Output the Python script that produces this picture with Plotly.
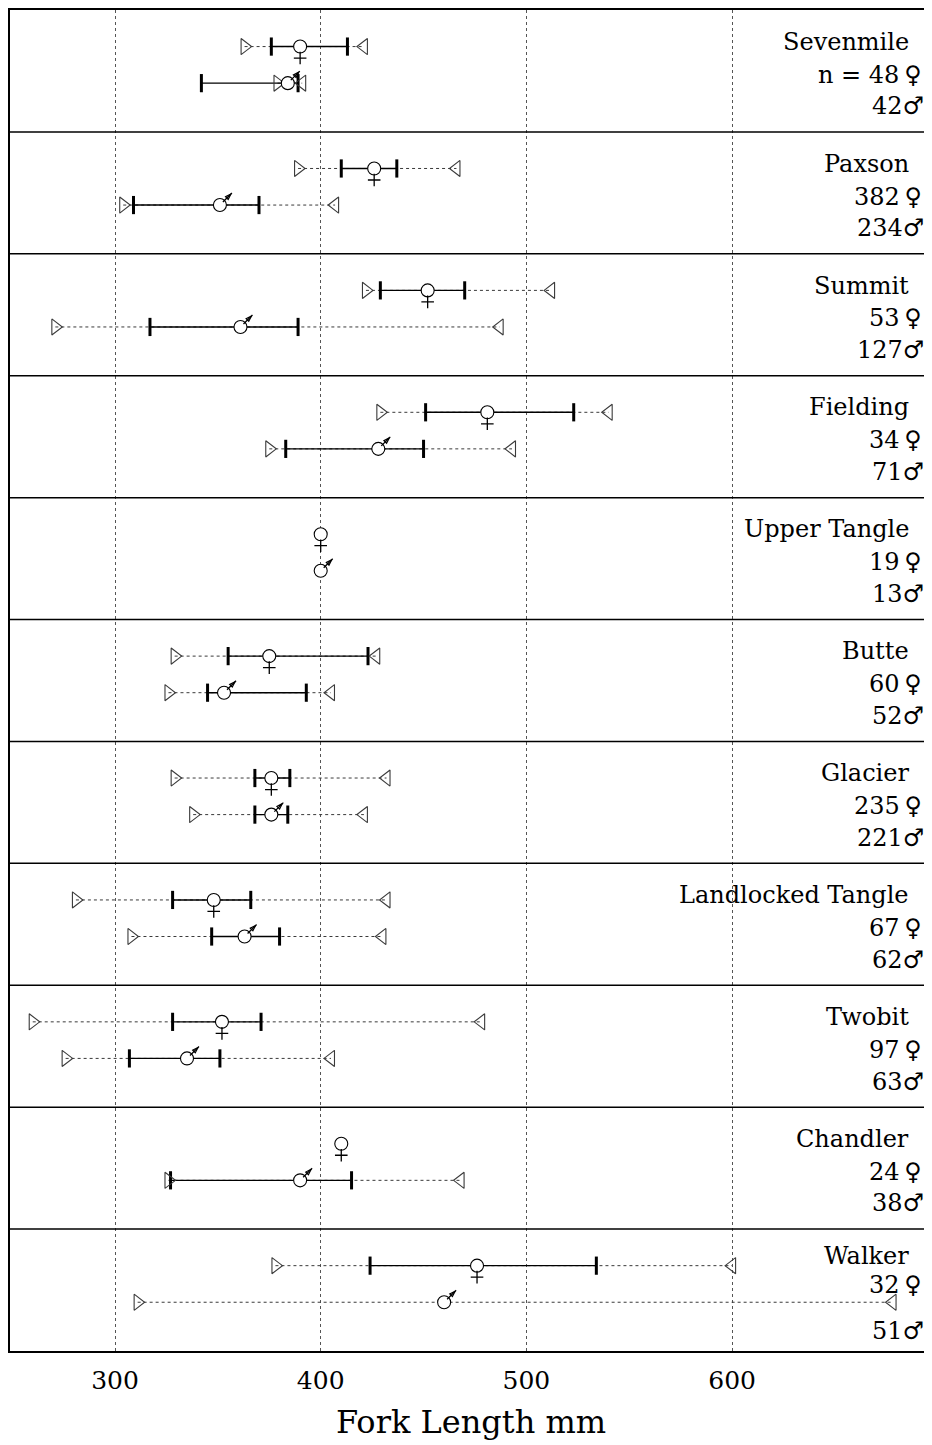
import plotly.graph_objects as go

# ---------------- data ----------------
sites = ["Sevenmile", "Paxson", "Summit", "Fielding", "Upper Tangle", "Butte",
         "Glacier", "Landlocked Tangle", "Twobit", "Chandler", "Walker"]
n_female = [48, 382, 53, 34, 19, 60, 235, 67, 97, 24, 32]
n_male = [42, 234, 127, 71, 13, 52, 221, 62, 63, 38, 51]

f_min  = [363, 389, 422, 429, None, 329, 329, 281, 260, None, 378]
f_lo   = [376, 410, 429, 451, None, 355, 368, 328, 328, None, 424]
f_mean = [390, 426, 452, 481, 400, 375, 376, 348, 352, 410, 476]
f_hi   = [413, 437, 470, 523, None, 423, 385, 366, 371, None, 534]
f_max  = [421, 466, 512, 540, None, 427, 432, 432, 478, None, 600]

m_min  = [379, 304, 271, 375, None, 326, 338, 308, 276, 326, 311]
m_lo   = [342, 309, 317, 383, None, 345, 368, 347, 307, 327, None]
m_mean = [384, 351, 361, 428, 400, 353, 376, 363, 335, 390, 460]
m_hi   = [389, 370, 389, 450, None, 393, 384, 380, 351, 415, None]
m_max  = [391, 407, 487, 493, None, 405, 421, 430, 405, 468, 678]

x_ticks = [300, 400, 500, 600]
x_title = "Fork Length mm"

# ---------------- layout constants ----------------
PAGE_OFF = 8                 # default body margin of the html page
W, H = 932 - PAGE_OFF, 1445 - PAGE_OFF
ML, MR, MT = 2, 0, 2
PLOT_BOTTOM_PAGE = 1351
MB = H - (PLOT_BOTTOM_PAGE - PAGE_OFF)
NP = len(sites)
plot_w = W - ML - MR
plot_h = H - MT - MB
LEFT_PAGE = PAGE_OFF + ML
XR = [300 + (LEFT_PAGE - 115) / 2.057, 300 + (932 - 115) / 2.057]
MM_PER_PX = (XR[1] - XR[0]) / plot_w
Y_PER_PX = NP / plot_h


def paper_x(page_x):
    return (page_x - LEFT_PAGE) / plot_w


F_OFF, M_OFF = 0.30, 0.60
# label positions within a panel (name, female count, male count)
LBL_POS = [0.26, 0.53, 0.79]
LBL_POS_LAST = [0.22, 0.46, 0.84]
FONT = "DejaVu Serif"
INK = "black"
TRI = "#3a3a3a"

fig = go.Figure()


def add_sex(vmin, vlo, vmean, vhi, vmax, off, female):
    rows = [i + off for i in range(NP)]
    # dotted range line
    xs, ys = [], []
    for a, b, y in zip(vmin, vmax, rows):
        if a is not None and b is not None:
            xs += [a, b, None]
            ys += [y, y, None]
    fig.add_trace(go.Scatter(x=xs, y=ys, mode="lines",
                             line=dict(color=TRI, width=1, dash="dot"),
                             hoverinfo="skip", showlegend=False))
    # solid bar
    xs, ys = [], []
    for a, b, y in zip(vlo, vhi, rows):
        if a is not None and b is not None:
            xs += [a, b, None]
            ys += [y, y, None]
    fig.add_trace(go.Scatter(x=xs, y=ys, mode="lines",
                             line=dict(color=INK, width=1.4),
                             hoverinfo="skip", showlegend=False))
    # end ticks
    tx = [v for v in vlo + vhi if v is not None]
    ty = [y for v, y in zip(vlo + vhi, rows + rows) if v is not None]
    fig.add_trace(go.Scatter(x=tx, y=ty, mode="markers",
                             marker=dict(symbol="line-ns", size=13, color=INK,
                                         line=dict(color=INK, width=3)),
                             hoverinfo="skip", showlegend=False))
    # min / max triangles
    px_ = [v for v in vmin if v is not None]
    py_ = [y for v, y in zip(vmin, rows) if v is not None]
    fig.add_trace(go.Scatter(x=px_, y=py_, mode="markers",
                             marker=dict(symbol="triangle-right-open", size=14, color=TRI,
                                         line=dict(color=TRI, width=1.1)),
                             hoverinfo="skip", showlegend=False))
    px_ = [v for v in vmax if v is not None]
    py_ = [y for v, y in zip(vmax, rows) if v is not None]
    fig.add_trace(go.Scatter(x=px_, y=py_, mode="markers",
                             marker=dict(symbol="triangle-left-open", size=14, color=TRI,
                                         line=dict(color=TRI, width=1.1)),
                             hoverinfo="skip", showlegend=False))
    # mean: circle + sex glyph parts
    fig.add_trace(go.Scatter(x=vmean, y=rows, mode="markers",
                             marker=dict(symbol="circle", size=13, color="white",
                                         line=dict(color=INK, width=1.1)),
                             hoverinfo="skip", showlegend=False))
    if female:
        fig.add_trace(go.Scatter(x=vmean, y=[y + 11.5 * Y_PER_PX for y in rows],
                                 mode="markers",
                                 marker=dict(symbol="cross-thin", size=9, color=INK,
                                             line=dict(color=INK, width=1.3)),
                                 hoverinfo="skip", showlegend=False))
    else:
        fig.add_trace(go.Scatter(x=[v + 7.5 * MM_PER_PX for v in vmean],
                                 y=[y - 7.5 * Y_PER_PX for y in rows],
                                 mode="markers",
                                 marker=dict(symbol="line-ne", size=9, color=INK,
                                             line=dict(color=INK, width=1.3)),
                                 hoverinfo="skip", showlegend=False))
        fig.add_trace(go.Scatter(x=[v + 11 * MM_PER_PX for v in vmean],
                                 y=[y - 11 * Y_PER_PX for y in rows],
                                 mode="markers",
                                 marker=dict(symbol="arrow-open", size=6, angle=45, color=INK,
                                             line=dict(color=INK, width=1.2)),
                                 hoverinfo="skip", showlegend=False))


add_sex(f_min, f_lo, f_mean, f_hi, f_max, F_OFF, True)
add_sex(m_min, m_lo, m_mean, m_hi, m_max, M_OFF, False)

# panel separators
shapes = []
for i in range(1, NP):
    shapes.append(dict(type="line", xref="paper", yref="y", x0=0, x1=1, y0=i, y1=i,
                       line=dict(color=INK, width=1.5), layer="above"))

# right-hand labels
ann = []
for i, name in enumerate(sites):
    pos = LBL_POS_LAST if i == NP - 1 else LBL_POS
    ann.append(dict(x=paper_x(911), y=i + pos[0], xref="paper", yref="y",
                    text=name, showarrow=False, xanchor="right", yanchor="middle",
                    font=dict(family=FONT, size=24, color=INK)))
    ftxt = ("n = " if i == 0 else "") + f"{n_female[i]}\u2009\u2640"
    ann.append(dict(x=paper_x(924), y=i + pos[1], xref="paper", yref="y",
                    text=ftxt, showarrow=False, xanchor="right", yanchor="middle",
                    font=dict(family=FONT, size=24, color=INK)))
    ann.append(dict(x=paper_x(926), y=i + pos[2], xref="paper", yref="y",
                    text=f"{n_male[i]}\u2642", showarrow=False, xanchor="right",
                    yanchor="middle", font=dict(family=FONT, size=24, color=INK)))

fig.update_layout(
    width=W, height=H,
    margin=dict(l=ML, r=MR, t=MT, b=MB, autoexpand=False),
    paper_bgcolor="white", plot_bgcolor="white",
    shapes=shapes, annotations=ann, showlegend=False,
    xaxis=dict(range=XR, tickvals=x_ticks, ticktext=[str(v) for v in x_ticks],
               showgrid=True, gridcolor="#555555", griddash="dot", gridwidth=1,
               zeroline=False, showline=True, linecolor=INK, linewidth=2,
               mirror=True, ticks="", ticklabelstandoff=6,
               tickfont=dict(family=FONT, size=25, color=INK),
               title=dict(text=x_title, standoff=17,
                          font=dict(family=FONT, size=32, color=INK))),
    yaxis=dict(range=[NP, 0], showgrid=False, zeroline=False, showticklabels=False,
               ticks="", showline=True, linecolor=INK, linewidth=3, mirror=False),
)

fig.write_html("out.html")
